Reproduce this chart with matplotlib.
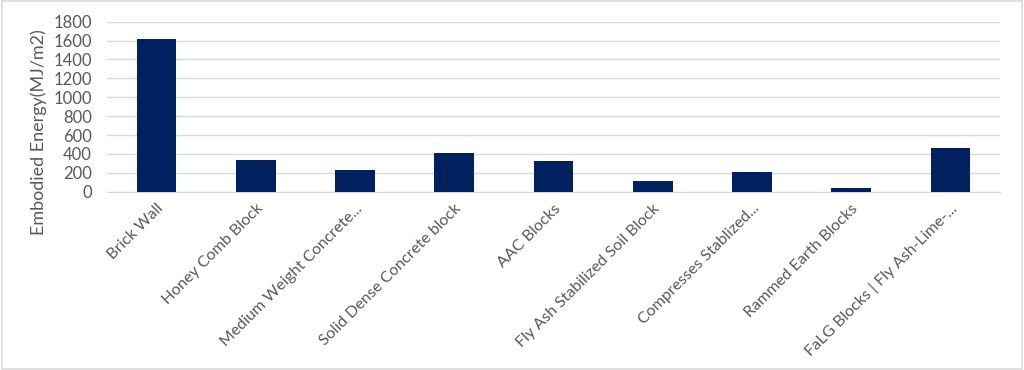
import matplotlib

matplotlib.use("Agg")
import matplotlib.pyplot as plt
from matplotlib.patches import Rectangle

categories = [
    "Brick Wall",
    "Honey Comb Block",
    "Medium Weight Concrete...",
    "Solid Dense Concrete block",
    "AAC Blocks",
    "Fly Ash Stabilized Soil Block",
    "Compresses Stablized...",
    "Rammed Earth Blocks",
    "FaLG Blocks | Fly Ash-Lime-...",
]
energy = [1615, 335, 230, 410, 320, 110, 205, 40, 463]
yticks = [0, 200, 400, 600, 800, 1000, 1200, 1400, 1600, 1800]

BAR = "#002060"
TEXT = "#595959"
GRID = "#d9d9d9"

plt.rcParams["font.family"] = ["Lato", "DejaVu Sans"]

fig = plt.figure(figsize=(10.24, 3.70), dpi=100)
ax = fig.add_axes([107 / 1024, 1 - 191.7 / 370, (1000 - 107) / 1024, 170 / 370])

x = range(len(categories))
ax.bar(x, energy, width=0.4, color=BAR, zorder=3)
ax.set_xlim(-0.5, len(categories) - 0.5)
ax.set_ylim(0, 1800)
ax.set_yticks(yticks)
ax.set_yticklabels([str(v) for v in yticks], fontsize=12, color=TEXT)
ax.set_xticks(list(x))
ax.set_xticklabels(categories, rotation=45, ha="right", va="top",
                   rotation_mode="anchor", fontsize=11.5, color=TEXT)
ax.tick_params(axis="x", length=0, pad=7)
ax.tick_params(axis="y", length=0, pad=11)
ax.grid(axis="y", color=GRID, linewidth=1, zorder=0)
for side in ("top", "right", "left"):
    ax.spines[side].set_visible(False)
ax.spines["bottom"].set_color(GRID)
ax.set_ylabel("Embodied Energy(MJ/m2)", fontsize=13, color=TEXT)
# the title sits lower than the plot centre, as in the original chart
ax.yaxis.set_label_coords(-0.067, 0.35)

# light chart border
fig.patches.append(Rectangle((0.002, 0.003), 0.996, 0.994, transform=fig.transFigure,
                             fill=False, edgecolor=GRID, linewidth=1.2))

fig.savefig("out.png", dpi=100)
plt.close(fig)
